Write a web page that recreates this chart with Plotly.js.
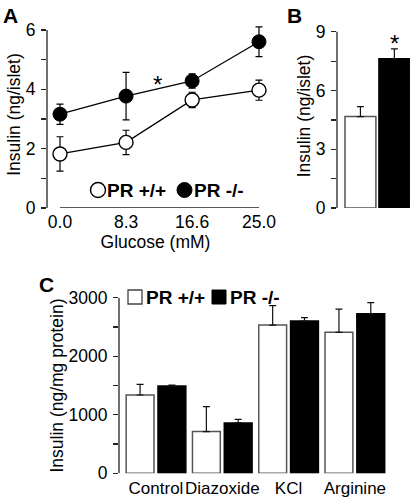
<!DOCTYPE html>
<html><head><meta charset="utf-8">
<script src="https://cdn.plot.ly/plotly-3.0.1.min.js"></script>
<style>html,body{margin:0;padding:0;background:#fff}#chart{width:410px;height:501px}</style>
</head><body><div id="chart"></div>
<script>
// ---- Panel A data ----
const glucose = [0, 8.3, 16.6, 25];
const glucoseLabels = ['0.0', '8.3', '16.6', '25.0'];
const aWT = [1.82, 2.21, 3.64, 3.97];
const aWTerr = [0.58, 0.41, 0.26, 0.34];
const aKO = [3.16, 3.77, 4.28, 5.6];
const aKOerr = [0.34, 0.8, 0.24, 0.5];
const aTicks = [0, 2, 4, 6];
const aMinor = [1, 3, 5];
// ---- Panel B data ----
const bGroups = ['PR +/+', 'PR -/-'];
const bVals = [4.67, 7.62];
const bErr = [0.51, 0.51];
const bTicks = [0, 3, 6, 9];
const bMinor = [1.5, 4.5, 7.5];
// ---- Panel C data ----
const cCats = ['Control', 'Diazoxide', 'KCl', 'Arginine'];
const cWT = [1338, 712, 2533, 2408];
const cWTerr = [182, 426, 330, 398];
const cKO = [1491, 860, 2601, 2727];
const cKOerr = [17, 62, 57, 188];
const cTicks = [0, 1000, 2000, 3000];
const cMinor = [500, 1500, 2500];
const legendLabels = ['PR +/+', 'PR -/-'];

const W = 410, H = 501;
const P = x => x / W;
const Q = y => 1 - y / H;
const FONT = 'Liberation Sans, Arial, Helvetica, sans-serif';
const FS = 17.5;
const AX = '#222';
const zeros = a => a.map(() => 0);

const errA = (arr) => ({type: 'data', array: arr, visible: true, color: '#000', thickness: 1.2, width: 3.5});
const errUp = (arr) => ({type: 'data', symmetric: false, array: arr, arrayminus: zeros(arr), visible: true, color: '#111', thickness: 1.2, width: 3.5});

const traces = [
  {x: glucose, y: aWT, xaxis: 'x', yaxis: 'y', type: 'scatter', mode: 'lines+markers',
   line: {color: '#000', width: 1.3},
   marker: {symbol: 'circle', size: 14, color: '#fff', line: {color: '#000', width: 1.4}},
   error_y: errA(aWTerr), showlegend: false, cliponaxis: false},
  {x: glucose, y: aKO, xaxis: 'x', yaxis: 'y', type: 'scatter', mode: 'lines+markers',
   line: {color: '#000', width: 1.3},
   marker: {symbol: 'circle', size: 14, color: '#000', line: {color: '#000', width: 1}},
   error_y: errA(aKOerr), showlegend: false, cliponaxis: false},
  {x: bGroups, y: bVals, xaxis: 'x2', yaxis: 'y2', type: 'bar', width: [0.91, 0.91],
   marker: {color: ['#fff', '#000'], line: {color: ['#555', '#000'], width: 1.5}},
   error_y: errUp(bErr), showlegend: false},
  {x: cCats, y: cWT, xaxis: 'x3', yaxis: 'y3', type: 'bar', offset: -0.45, width: 0.42,
   marker: {color: '#fff', line: {color: '#555', width: 1.5}},
   error_y: errUp(cWTerr), showlegend: false},
  {x: cCats, y: cKO, xaxis: 'x3', yaxis: 'y3', type: 'bar', offset: 0.03, width: 0.42,
   marker: {color: '#000', line: {color: '#000', width: 1.5}},
   error_y: errUp(cKOerr), showlegend: false}
];

const yCommon = (ticks, minor) => ({
  tickmode: 'array', tickvals: ticks, ticks: 'outside', ticklen: 5, tickwidth: 1.3, tickcolor: AX,
  minor: {tickmode: 'array', tickvals: minor, ticks: 'outside', ticklen: 5, tickwidth: 1.3, tickcolor: AX},
  showgrid: false, zeroline: false, showline: false, ticklabelstandoff: 2,
  tickfont: {size: FS, color: '#000', family: FONT}
});

const layout = {
  width: W, height: H,
  margin: {l: 0, r: 0, t: 0, b: 0},
  paper_bgcolor: '#fff', plot_bgcolor: 'rgba(0,0,0,0)',
  font: {family: FONT, size: FS, color: '#000'},
  showlegend: false,
  barmode: 'overlay',
  xaxis: {domain: [P(47), P(264)], range: [-1.633, 25.63], anchor: 'y',
    tickmode: 'array', tickvals: glucose, ticktext: glucoseLabels, ticks: '',
    showgrid: false, zeroline: false, showline: false, ticklabelstandoff: 1,
    tickfont: {size: FS, color: '#000'},
    title: {text: 'Glucose (mM)', font: {size: FS, color: '#000'}, standoff: 0}},
  yaxis: Object.assign(yCommon(aTicks, aMinor), {domain: [Q(208), Q(21)], range: [0, 6.3], anchor: 'x',
    title: {text: 'Insulin (ng/islet)', font: {size: FS, color: '#000'}, standoff: 0}}),
  xaxis2: {domain: [P(337), P(410)], range: [-0.69, 1.46], anchor: 'y2', type: 'category',
    showticklabels: false, ticks: '', showgrid: false, zeroline: false, showline: false},
  yaxis2: Object.assign(yCommon(bTicks, bMinor), {domain: [Q(208), Q(24)], range: [0, 9.4], anchor: 'x2',
    title: {text: 'Insulin (ng/islet)', font: {size: FS, color: '#000'}, standoff: 0}}),
  xaxis3: {domain: [P(119), P(390)], range: [-0.558, 3.53], anchor: 'y3', type: 'category',
    ticks: '', tickangle: 0, showgrid: false, zeroline: false, showline: false, ticklabelstandoff: 3,
    tickfont: {size: 17, color: '#000'}},
  yaxis3: Object.assign(yCommon(cTicks, cMinor), {domain: [Q(473.3), Q(297.7)], range: [0, 3000], anchor: 'x3',
    title: {text: 'Insulin (ng/mg protein)', font: {size: FS, color: '#000'}, standoff: 0}}),
  shapes: [
    // axis lines
    {type: 'line', xref: 'x domain', yref: 'y', x0: 0, x1: 0, y0: 0, y1: 6, line: {color: AX, width: 1.3}},
    {type: 'line', xref: 'x', yref: 'y', x0: 0, x1: 25, y0: 0, y1: 0, line: {color: AX, width: 1.3}},
    {type: 'line', xref: 'x2 domain', yref: 'y2', x0: 0, x1: 0, y0: 0, y1: 9, line: {color: AX, width: 1.3}},
    {type: 'line', xref: 'x3 domain', yref: 'y3', x0: 0, x1: 0, y0: 0, y1: 3000, line: {color: AX, width: 1.3}},
    // legend glyphs panel A
    {type: 'circle', xref: 'paper', yref: 'paper', x0: P(90.5), x1: P(105.5), y0: Q(197.5), y1: Q(182.5),
     fillcolor: '#fff', line: {color: '#000', width: 1.4}},
    {type: 'circle', xref: 'paper', yref: 'paper', x0: P(177), x1: P(192), y0: Q(197.5), y1: Q(182.5),
     fillcolor: '#000', line: {color: '#000', width: 1}},
    // legend glyphs panel C
    {type: 'rect', xref: 'paper', yref: 'paper', x0: P(128), x1: P(142), y0: Q(304), y1: Q(290),
     fillcolor: '#fff', line: {color: '#444', width: 1.3}},
    {type: 'rect', xref: 'paper', yref: 'paper', x0: P(212), x1: P(226), y0: Q(304), y1: Q(290),
     fillcolor: '#000', line: {color: '#000', width: 1}}
  ],
  annotations: [
    {text: '<b>A</b>', xref: 'paper', yref: 'paper', x: P(1), y: Q(2), xanchor: 'left', yanchor: 'top', showarrow: false, font: {size: 21, color: '#000'}},
    {text: '<b>B</b>', xref: 'paper', yref: 'paper', x: P(285), y: Q(2), xanchor: 'left', yanchor: 'top', showarrow: false, font: {size: 21, color: '#000'}},
    {text: '<b>C</b>', xref: 'paper', yref: 'paper', x: P(37), y: Q(271), xanchor: 'left', yanchor: 'top', showarrow: false, font: {size: 21, color: '#000'}},
    {text: '*', xref: 'x', yref: 'y', x: 12.2, y: 4.31, showarrow: false, yshift: -4, font: {size: 24, color: '#000'}},
    {text: '*', xref: 'x2', yref: 'y2', x: bGroups[1], y: 8.64, showarrow: false, yshift: -5, font: {size: 24, color: '#000'}},
    {text: '<b>' + legendLabels[0] + '</b>', xref: 'paper', yref: 'paper', x: P(105), y: Q(190), xanchor: 'left', yanchor: 'middle', showarrow: false, font: {size: 19, color: '#000'}},
    {text: '<b>' + legendLabels[1] + '</b>', xref: 'paper', yref: 'paper', x: P(192), y: Q(190), xanchor: 'left', yanchor: 'middle', showarrow: false, font: {size: 19, color: '#000'}},
    {text: '<b>' + legendLabels[0] + '</b>', xref: 'paper', yref: 'paper', x: P(144), y: Q(297), xanchor: 'left', yanchor: 'middle', showarrow: false, font: {size: 19, color: '#000'}},
    {text: '<b>' + legendLabels[1] + '</b>', xref: 'paper', yref: 'paper', x: P(228), y: Q(297), xanchor: 'left', yanchor: 'middle', showarrow: false, font: {size: 19, color: '#000'}}
  ]
};

Plotly.newPlot('chart', traces, layout, {staticPlot: true, displayModeBar: false});
</script>
</body></html>
